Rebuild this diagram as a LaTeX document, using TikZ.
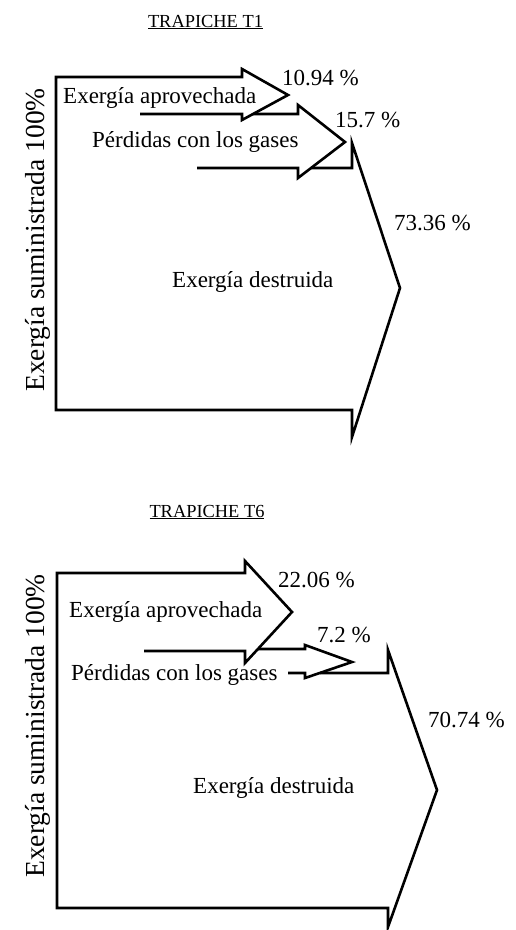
\documentclass[tikz,border=0pt]{standalone}
\usepackage{fontspec}
\setmainfont{Liberation Serif}
\begin{document}
\begin{tikzpicture}[x=1pt,y=-1pt,
  outline/.style={line width=2.6pt, line join=miter},
  lbl/.style={inner sep=0pt, anchor=base west, font=\fontsize{23}{27}\selectfont},
  ttl/.style={inner sep=0pt, anchor=base, font=\fontsize{18.4}{22}\selectfont},
  side/.style={inner sep=0pt, rotate=90, anchor=center, font=\fontsize{27.5}{32}\selectfont}]
\useasboundingbox (0,0) rectangle (516,930);
% ---------------- TRAPICHE T1 ----------------
\node[ttl] (t1) at (205.5,27) {\underline{TRAPICHE T1}};
% big outline with arrow "Exergía aprovechada"
\draw[outline] (140,114) -- (242,114) -- (242,120) -- (288,95) -- (242,69) -- (242,77)
  -- (56,77) -- (56,410) -- (352,410) -- (352,437) -- (400,288) -- (352,143) -- (352,168) -- (311,168);
% arrow "Pérdidas con los gases"
\draw[outline] (253,114) -- (298,114) -- (298,105) -- (345,142) -- (298,178) -- (298,168) -- (197,168);
\node[lbl] (a1) at (63,103) {Exergía aprovechada};
\node[lbl] (p1) at (282,85) {10.94 \%};
\node[lbl] (g1) at (92,147) {Pérdidas con los gases};
\node[lbl] (q1) at (335,127) {15.7 \%};
\node[lbl] (d1) at (172,287) {Exergía destruida};
\node[lbl] (r1) at (394,230) {73.36 \%};
\node[side] (s1) at (38,240) {Exergía suministrada 100\%};
% ---------------- TRAPICHE T6 ----------------
\node[ttl] (t6) at (207,517) {\underline{TRAPICHE T6}};
\draw[outline] (144,651) -- (245,651) -- (245,663) -- (292,612) -- (245,561) -- (245,573)
  -- (57,573) -- (57,908) -- (388,908) -- (388,927) -- (437,790) -- (388,650) -- (388,673) -- (320,673);
\draw[outline] (258,649) -- (305,649) -- (305,645) -- (352,662) -- (305,678) -- (305,673) -- (288,673);
\node[lbl] (a6) at (69,617) {Exergía aprovechada};
\node[lbl] (p6) at (278,587) {22.06 \%};
\node[lbl] (g6) at (71,680) {Pérdidas con los gases};
\node[lbl] (q6) at (317,642) {7.2 \%};
\node[lbl] (d6) at (193,793) {Exergía destruida};
\node[lbl] (r6) at (428,727) {70.74 \%};
\node[side] (s6) at (38,726) {Exergía suministrada 100\%};
\end{tikzpicture}
\end{document}
